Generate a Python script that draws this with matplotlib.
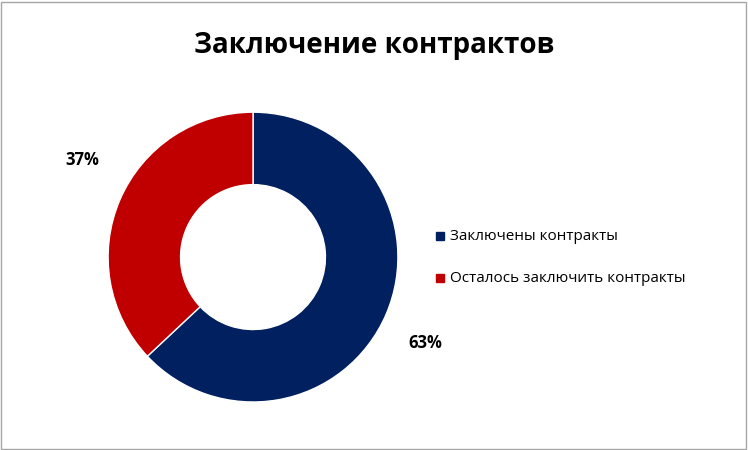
import matplotlib
matplotlib.use("Agg")
import matplotlib.pyplot as plt
from matplotlib.patches import Rectangle

categories = ["Заключены контракты", "Осталось заключить контракты"]
values = [63, 37]
labels = ["63%", "37%"]
colors = ["#002060", "#C00000"]

plt.rcParams['font.family'] = ['Open Sans', 'DejaVu Sans']
fig = plt.figure(figsize=(7.48, 4.5), dpi=100)
fig.patches.append(Rectangle((0.002, 0.002), 0.995, 0.994, transform=fig.transFigure,
                             fill=False, edgecolor="#A6A6A6", linewidth=1))
fig.text(0.5, 0.9, "Заключение контрактов", ha="center", va="center",
         fontsize=20, fontweight="bold")

ax = fig.add_axes([0.1444, 0.1067, 0.3877, 0.644])
wedges, _ = ax.pie(values, colors=colors, startangle=90, counterclock=False,
                   radius=1, wedgeprops=dict(width=0.5, edgecolor="white", linewidth=1))
ax.set_xlim(-1, 1); ax.set_ylim(-1, 1); ax.set_aspect("equal")

fig.text(425/748, 1-343/450, labels[0], ha="center", va="center", fontsize=12, fontweight="bold")
fig.text(82/748, 1-160/450, labels[1], ha="center", va="center", fontsize=12, fontweight="bold")

ys = [236, 278]
for cat, col, y in zip(categories, colors, ys):
    fig.patches.append(Rectangle((436/748, 1-(y+4)/450), 8/748, 8/450,
                                 transform=fig.transFigure, color=col))
    fig.text(450/748, 1-y/450, cat, ha="left", va="center", fontsize=11)

fig.savefig("out.png", dpi=100)
